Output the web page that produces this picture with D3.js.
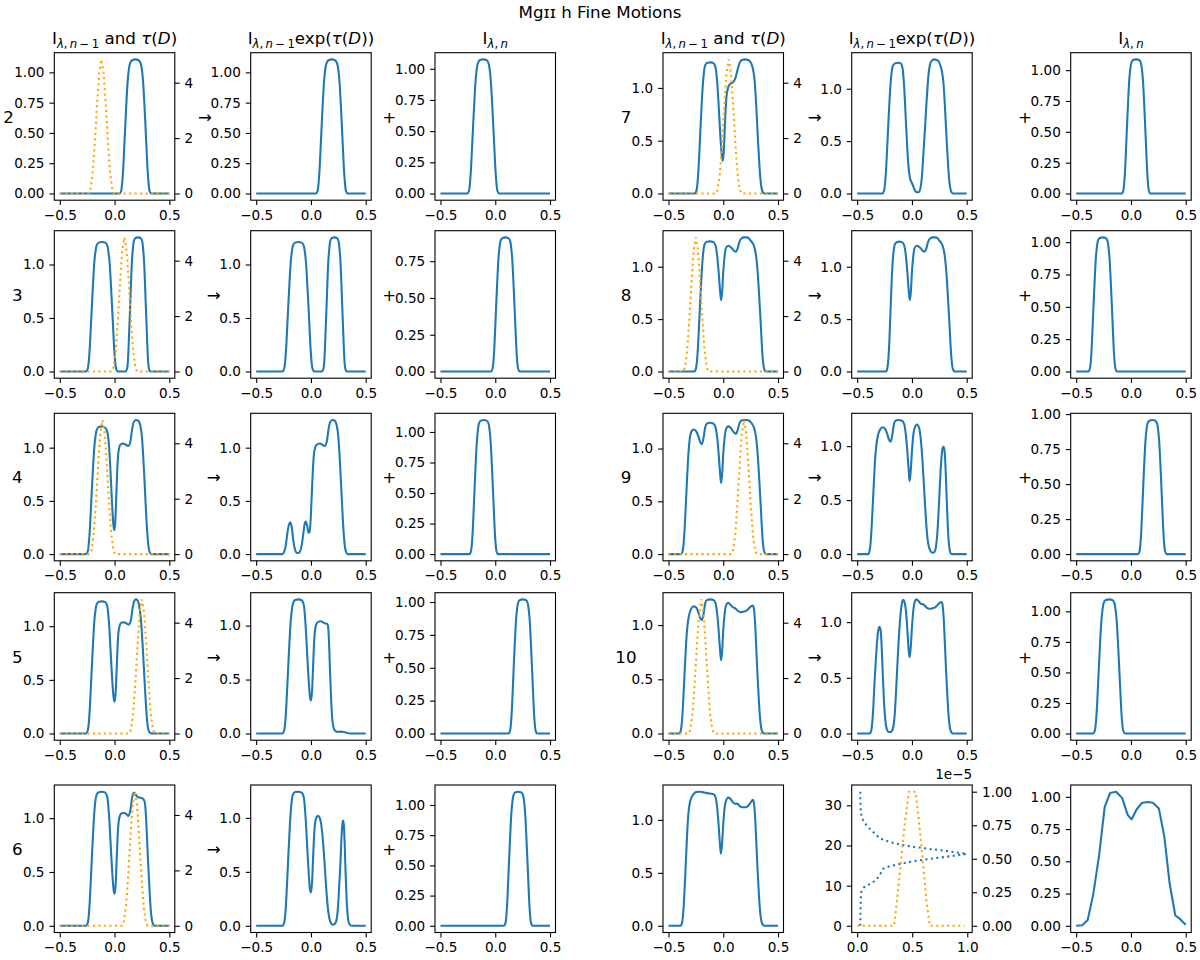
<!DOCTYPE html>
<html>
<head>
<meta charset="utf-8">
<script src="https://cdn.jsdelivr.net/npm/d3@7"></script>
<style>
  body { margin: 0; background: #fff; }
  svg text { font-family: "DejaVu Sans", sans-serif; fill: #000; }
</style>
</head>
<body>
<div id="chart"></div>
<script>
// ---- data: [wavelength offset, value] ----
// step 2
const s2_I = [[-0.5,0],[0.045,0],[0.06,0.02],[0.07,0.09],[0.08,0.22],[0.09,0.41],[0.10,0.6],[0.11,0.78],[0.12,0.93],[0.13,1.02],[0.14,1.07],[0.16,1.1],[0.19,1.107],[0.22,1.1],[0.24,1.07],[0.25,1.02],[0.26,0.93],[0.27,0.78],[0.28,0.6],[0.29,0.41],[0.30,0.22],[0.31,0.09],[0.32,0.02],[0.335,0],[0.5,0]];
const s2_tau = [[-0.5,0],[-0.235,0],[-0.22,0.15],[-0.2,0.73],[-0.18,1.84],[-0.16,3.2],[-0.14,4.36],[-0.12,4.84],[-0.10,4.36],[-0.08,3.2],[-0.06,1.84],[-0.04,0.73],[-0.02,0.15],[-0.005,0],[0.5,0]];
const s2_A = s2_I;
const s2_S = [[-0.5,0],[-0.255,0],[-0.24,0.02],[-0.23,0.09],[-0.22,0.22],[-0.21,0.4],[-0.2,0.58],[-0.19,0.75],[-0.18,0.9],[-0.17,0.99],[-0.16,1.04],[-0.14,1.07],[-0.11,1.075],[-0.08,1.07],[-0.06,1.04],[-0.05,0.99],[-0.04,0.9],[-0.03,0.75],[-0.02,0.58],[-0.01,0.4],[0,0.22],[0.01,0.09],[0.02,0.02],[0.035,0],[0.5,0]];
// step 3
const s3_I = [[-0.5,0],[-0.26,0],[-0.245,0.024],[-0.235,0.097],[-0.225,0.242],[-0.215,0.448],[-0.205,0.653],[-0.195,0.847],[-0.185,1.016],[-0.175,1.113],[-0.165,1.174],[-0.145,1.204],[-0.115,1.21],[-0.085,1.204],[-0.065,1.174],[-0.055,1.113],[-0.045,1.016],[-0.035,0.847],[-0.025,0.653],[-0.015,0.448],[-0.005,0.242],[0.005,0.097],[0.015,0.024],[0.03,0],[0.1,0],[0.114,0.025],[0.122,0.1],[0.129,0.251],[0.137,0.464],[0.145,0.677],[0.152,0.877],[0.16,1.053],[0.168,1.153],[0.175,1.215],[0.191,1.247],[0.214,1.253],[0.237,1.247],[0.253,1.215],[0.26,1.153],[0.268,1.053],[0.276,0.877],[0.283,0.677],[0.291,0.464],[0.299,0.251],[0.306,0.1],[0.314,0.025],[0.326,0],[0.5,0]];
const s3_tau = [[-0.5,0],[-0.025,0],[-0.01,0.15],[0.01,0.73],[0.03,1.84],[0.05,3.2],[0.07,4.36],[0.09,4.84],[0.11,4.36],[0.13,3.2],[0.15,1.84],[0.17,0.73],[0.19,0.15],[0.205,0],[0.5,0]];
const s3_A = s3_I;
const s3_S = [[-0.5,0],[-0.038,0],[-0.025,0.018],[-0.016,0.073],[-0.007,0.182],[0.002,0.337],[0.011,0.492],[0.02,0.638],[0.029,0.766],[0.038,0.839],[0.047,0.885],[0.065,0.907],[0.092,0.912],[0.119,0.907],[0.137,0.885],[0.146,0.839],[0.155,0.766],[0.164,0.638],[0.173,0.492],[0.182,0.337],[0.191,0.182],[0.2,0.073],[0.209,0.018],[0.222,0],[0.5,0]];
// step 4
const s4_I = [[-0.5,0],[-0.26,0],[-0.245,0.024],[-0.235,0.097],[-0.225,0.24],[-0.215,0.44],[-0.205,0.65],[-0.195,0.84],[-0.185,1.0],[-0.175,1.1],[-0.165,1.16],[-0.145,1.195],[-0.115,1.2],[-0.09,1.19],[-0.07,1.16],[-0.055,1.07],[-0.04,0.84],[-0.025,0.52],[-0.012,0.29],[-0.004,0.225],[0.005,0.28],[0.015,0.52],[0.025,0.8],[0.037,0.97],[0.055,1.03],[0.08,1.04],[0.1,1.03],[0.125,1.015],[0.145,1.06],[0.16,1.17],[0.175,1.24],[0.195,1.26],[0.215,1.255],[0.235,1.21],[0.25,1.1],[0.26,0.95],[0.27,0.76],[0.28,0.55],[0.29,0.35],[0.3,0.18],[0.31,0.07],[0.32,0.02],[0.335,0],[0.5,0]];
const s4_tau = [[-0.5,0],[-0.225,0],[-0.21,0.15],[-0.19,0.73],[-0.17,1.84],[-0.15,3.2],[-0.13,4.36],[-0.11,4.84],[-0.09,4.36],[-0.07,3.2],[-0.05,1.84],[-0.03,0.73],[-0.01,0.15],[0.005,0],[0.5,0]];
const s4_A = [[-0.5,0],[-0.26,0],[-0.245,0.02],[-0.23,0.08],[-0.215,0.2],[-0.2,0.28],[-0.188,0.3],[-0.175,0.25],[-0.16,0.12],[-0.145,0.04],[-0.13,0.012],[-0.115,0.01],[-0.1,0.025],[-0.085,0.08],[-0.07,0.19],[-0.058,0.28],[-0.048,0.305],[-0.035,0.27],[-0.022,0.2],[-0.012,0.21],[-0.003,0.32],[0.007,0.55],[0.018,0.8],[0.03,0.96],[0.05,1.025],[0.08,1.04],[0.1,1.03],[0.125,1.015],[0.145,1.06],[0.16,1.17],[0.175,1.24],[0.195,1.26],[0.215,1.255],[0.235,1.21],[0.25,1.1],[0.26,0.95],[0.27,0.76],[0.28,0.55],[0.29,0.35],[0.3,0.18],[0.31,0.07],[0.32,0.02],[0.335,0],[0.5,0]];
const s4_S = [[-0.5,0],[-0.235,0],[-0.222,0.022],[-0.213,0.088],[-0.204,0.22],[-0.195,0.406],[-0.186,0.593],[-0.177,0.769],[-0.168,0.922],[-0.159,1.01],[-0.15,1.065],[-0.132,1.093],[-0.105,1.098],[-0.078,1.093],[-0.06,1.065],[-0.051,1.01],[-0.042,0.922],[-0.033,0.769],[-0.024,0.593],[-0.015,0.406],[-0.006,0.22],[0.003,0.088],[0.012,0.022],[0.025,0],[0.5,0]];
// step 5
const s5_I = [[-0.5,0],[-0.26,0],[-0.245,0.025],[-0.235,0.1],[-0.225,0.25],[-0.215,0.46],[-0.205,0.67],[-0.195,0.87],[-0.185,1.04],[-0.175,1.14],[-0.165,1.2],[-0.145,1.228],[-0.115,1.232],[-0.085,1.225],[-0.065,1.18],[-0.05,1.02],[-0.035,0.75],[-0.02,0.48],[-0.008,0.33],[0,0.296],[0.01,0.38],[0.02,0.62],[0.03,0.86],[0.045,1.0],[0.065,1.034],[0.09,1.036],[0.11,1.025],[0.13,1.015],[0.15,1.06],[0.165,1.17],[0.18,1.235],[0.195,1.25],[0.21,1.24],[0.225,1.19],[0.24,1.07],[0.25,0.93],[0.26,0.76],[0.27,0.57],[0.28,0.38],[0.29,0.21],[0.3,0.09],[0.31,0.03],[0.325,0.005],[0.34,0],[0.5,0]];
const s5_tau = [[-0.5,0],[0.135,0],[0.15,0.15],[0.17,0.73],[0.19,1.84],[0.21,3.2],[0.23,4.36],[0.25,4.84],[0.27,4.36],[0.29,3.2],[0.31,1.84],[0.33,0.73],[0.35,0.15],[0.365,0],[0.5,0]];
const s5_A = [[-0.5,0],[-0.26,0],[-0.245,0.025],[-0.235,0.1],[-0.225,0.25],[-0.215,0.46],[-0.205,0.67],[-0.195,0.87],[-0.185,1.04],[-0.175,1.14],[-0.165,1.2],[-0.145,1.238],[-0.115,1.243],[-0.085,1.235],[-0.065,1.19],[-0.05,1.02],[-0.035,0.75],[-0.02,0.48],[-0.008,0.33],[0,0.306],[0.01,0.39],[0.02,0.63],[0.03,0.87],[0.045,1.0],[0.065,1.035],[0.09,1.04],[0.11,1.03],[0.13,1.02],[0.145,1.02],[0.155,1.0],[0.165,0.85],[0.175,0.55],[0.185,0.3],[0.195,0.13],[0.205,0.06],[0.22,0.025],[0.24,0.015],[0.27,0.017],[0.3,0.014],[0.33,0.006],[0.35,0],[0.5,0]];
const s5_S = [[-0.5,0],[0.122,0],[0.135,0.02],[0.144,0.082],[0.153,0.204],[0.162,0.377],[0.171,0.551],[0.18,0.714],[0.189,0.857],[0.198,0.938],[0.207,0.989],[0.225,1.015],[0.252,1.02],[0.279,1.015],[0.297,0.989],[0.306,0.938],[0.315,0.857],[0.324,0.714],[0.333,0.551],[0.342,0.377],[0.351,0.204],[0.36,0.082],[0.369,0.02],[0.382,0],[0.5,0]];
// step 6
const s6_I = [[-0.5,0],[-0.26,0],[-0.245,0.025],[-0.235,0.1],[-0.225,0.25],[-0.215,0.46],[-0.205,0.68],[-0.195,0.88],[-0.185,1.05],[-0.175,1.16],[-0.165,1.215],[-0.145,1.242],[-0.115,1.246],[-0.085,1.238],[-0.065,1.19],[-0.05,1.02],[-0.035,0.75],[-0.02,0.48],[-0.008,0.33],[0,0.297],[0.01,0.38],[0.02,0.63],[0.03,0.87],[0.045,1.01],[0.065,1.045],[0.09,1.048],[0.11,1.035],[0.127,1.02],[0.145,1.08],[0.16,1.19],[0.178,1.238],[0.195,1.215],[0.215,1.195],[0.24,1.19],[0.26,1.18],[0.275,1.15],[0.285,1.05],[0.295,0.85],[0.305,0.62],[0.315,0.42],[0.325,0.23],[0.335,0.1],[0.345,0.035],[0.36,0.005],[0.375,0],[0.5,0]];
const s6_tau = [[-0.5,0],[0.07,0],[0.085,0.15],[0.105,0.73],[0.125,1.84],[0.145,3.2],[0.165,4.36],[0.185,4.84],[0.205,4.36],[0.225,3.2],[0.245,1.84],[0.265,0.73],[0.285,0.15],[0.3,0],[0.5,0]];
const s6_A = [[-0.5,0],[-0.26,0],[-0.245,0.025],[-0.235,0.1],[-0.225,0.25],[-0.215,0.46],[-0.205,0.68],[-0.195,0.88],[-0.185,1.05],[-0.175,1.16],[-0.165,1.215],[-0.145,1.24],[-0.115,1.243],[-0.085,1.235],[-0.065,1.19],[-0.05,1.02],[-0.035,0.75],[-0.02,0.48],[-0.008,0.33],[0,0.31],[0.01,0.4],[0.02,0.64],[0.03,0.86],[0.045,0.99],[0.064,1.02],[0.08,1.0],[0.095,0.93],[0.11,0.78],[0.125,0.57],[0.14,0.34],[0.155,0.16],[0.17,0.06],[0.185,0.02],[0.2,0.01],[0.215,0.015],[0.23,0.04],[0.245,0.15],[0.257,0.35],[0.268,0.56],[0.278,0.8],[0.287,0.94],[0.293,0.975],[0.3,0.94],[0.308,0.76],[0.316,0.5],[0.325,0.26],[0.335,0.1],[0.345,0.03],[0.36,0.005],[0.375,0],[0.5,0]];
const s6_S = [[-0.5,0],[0.08,0],[0.093,0.022],[0.102,0.089],[0.111,0.222],[0.12,0.411],[0.129,0.599],[0.138,0.777],[0.147,0.932],[0.156,1.021],[0.165,1.077],[0.183,1.104],[0.21,1.11],[0.237,1.104],[0.255,1.077],[0.264,1.021],[0.273,0.932],[0.282,0.777],[0.291,0.599],[0.3,0.411],[0.309,0.222],[0.318,0.089],[0.327,0.022],[0.34,0],[0.5,0]];
// step 7
const s7_I = [[-0.5,0],[-0.26,0],[-0.245,0.025],[-0.235,0.1],[-0.225,0.25],[-0.215,0.46],[-0.205,0.68],[-0.195,0.88],[-0.185,1.05],[-0.175,1.16],[-0.165,1.215],[-0.145,1.238],[-0.115,1.242],[-0.09,1.235],[-0.07,1.19],[-0.055,1.05],[-0.04,0.8],[-0.025,0.52],[-0.012,0.35],[-0.004,0.308],[0.005,0.4],[0.015,0.65],[0.028,0.9],[0.045,1.006],[0.065,1.04],[0.09,1.055],[0.11,1.09],[0.13,1.17],[0.15,1.24],[0.17,1.265],[0.2,1.27],[0.225,1.265],[0.245,1.25],[0.26,1.22],[0.275,1.16],[0.288,1.05],[0.3,0.85],[0.31,0.65],[0.32,0.45],[0.33,0.27],[0.34,0.13],[0.35,0.05],[0.36,0.015],[0.375,0],[0.5,0]];
const s7_tau = [[-0.5,0],[-0.065,0],[-0.05,0.15],[-0.03,0.73],[-0.01,1.84],[0.01,3.2],[0.03,4.36],[0.05,4.84],[0.07,4.36],[0.09,3.2],[0.11,1.84],[0.13,0.73],[0.15,0.15],[0.165,0],[0.5,0]];
const s7_A = [[-0.5,0],[-0.27,0],[-0.255,0.025],[-0.245,0.1],[-0.235,0.25],[-0.225,0.46],[-0.215,0.68],[-0.205,0.88],[-0.195,1.05],[-0.185,1.16],[-0.175,1.215],[-0.155,1.242],[-0.125,1.248],[-0.1,1.24],[-0.085,1.19],[-0.07,1.0],[-0.058,0.75],[-0.046,0.5],[-0.035,0.3],[-0.022,0.17],[-0.01,0.12],[0,0.1],[0.015,0.06],[0.03,0.025],[0.045,0.012],[0.06,0.012],[0.075,0.04],[0.09,0.15],[0.1,0.3],[0.11,0.47],[0.12,0.64],[0.13,0.82],[0.14,0.98],[0.15,1.12],[0.16,1.21],[0.175,1.26],[0.2,1.28],[0.225,1.275],[0.245,1.26],[0.26,1.22],[0.275,1.16],[0.288,1.05],[0.3,0.85],[0.31,0.65],[0.32,0.45],[0.33,0.27],[0.34,0.13],[0.35,0.05],[0.36,0.015],[0.375,0],[0.5,0]];
const s7_S = [[-0.5,0],[-0.083,0],[-0.07,0.022],[-0.061,0.087],[-0.052,0.217],[-0.043,0.402],[-0.034,0.587],[-0.025,0.761],[-0.016,0.913],[-0.007,1.0],[0.002,1.054],[0.02,1.082],[0.047,1.087],[0.074,1.082],[0.092,1.054],[0.101,1.0],[0.11,0.913],[0.119,0.761],[0.128,0.587],[0.137,0.402],[0.146,0.217],[0.155,0.087],[0.164,0.022],[0.177,0],[0.5,0]];
// step 8
const s8_I = [[-0.5,0],[-0.265,0],[-0.25,0.025],[-0.24,0.1],[-0.23,0.25],[-0.22,0.46],[-0.21,0.68],[-0.2,0.88],[-0.19,1.05],[-0.18,1.16],[-0.17,1.215],[-0.15,1.238],[-0.12,1.242],[-0.09,1.235],[-0.07,1.2],[-0.055,1.1],[-0.042,0.95],[-0.03,0.78],[-0.02,0.68],[-0.01,0.76],[0,0.95],[0.012,1.1],[0.025,1.18],[0.045,1.2],[0.065,1.19],[0.085,1.17],[0.1,1.15],[0.115,1.144],[0.13,1.17],[0.145,1.23],[0.165,1.27],[0.19,1.28],[0.215,1.28],[0.235,1.27],[0.25,1.25],[0.265,1.23],[0.28,1.2],[0.29,1.16],[0.3,1.1],[0.31,1.0],[0.32,0.86],[0.33,0.68],[0.34,0.5],[0.35,0.3],[0.36,0.13],[0.37,0.04],[0.38,0.01],[0.39,0],[0.5,0]];
const s8_tau = [[-0.5,0],[-0.365,0],[-0.35,0.15],[-0.33,0.73],[-0.31,1.84],[-0.29,3.2],[-0.27,4.36],[-0.25,4.84],[-0.23,4.36],[-0.21,3.2],[-0.19,1.84],[-0.17,0.73],[-0.15,0.15],[-0.135,0],[0.5,0]];
const s8_A = [[-0.5,0],[-0.235,0],[-0.225,0.03],[-0.215,0.12],[-0.205,0.32],[-0.195,0.6],[-0.185,0.87],[-0.175,1.06],[-0.165,1.17],[-0.15,1.225],[-0.12,1.24],[-0.09,1.235],[-0.07,1.2],[-0.055,1.1],[-0.042,0.95],[-0.03,0.78],[-0.02,0.68],[-0.01,0.76],[0,0.95],[0.012,1.1],[0.025,1.18],[0.045,1.2],[0.065,1.19],[0.085,1.17],[0.1,1.15],[0.115,1.144],[0.13,1.17],[0.145,1.23],[0.165,1.27],[0.19,1.28],[0.215,1.28],[0.235,1.27],[0.25,1.25],[0.265,1.23],[0.28,1.2],[0.29,1.16],[0.3,1.1],[0.31,1.0],[0.32,0.86],[0.33,0.68],[0.34,0.5],[0.35,0.3],[0.36,0.13],[0.37,0.04],[0.38,0.01],[0.39,0],[0.5,0]];
const s8_S = [[-0.5,0],[-0.388,0],[-0.375,0.021],[-0.366,0.083],[-0.357,0.207],[-0.348,0.384],[-0.339,0.56],[-0.33,0.726],[-0.321,0.871],[-0.312,0.954],[-0.303,1.006],[-0.285,1.032],[-0.258,1.037],[-0.231,1.032],[-0.213,1.006],[-0.204,0.954],[-0.195,0.871],[-0.186,0.726],[-0.177,0.56],[-0.168,0.384],[-0.159,0.207],[-0.15,0.083],[-0.141,0.021],[-0.128,0],[0.5,0]];
// step 9
const s9_I = [[-0.5,0],[-0.385,0],[-0.372,0.025],[-0.362,0.1],[-0.352,0.25],[-0.342,0.46],[-0.332,0.68],[-0.322,0.88],[-0.312,1.03],[-0.3,1.13],[-0.285,1.17],[-0.267,1.18],[-0.245,1.16],[-0.225,1.11],[-0.21,1.06],[-0.195,1.04],[-0.18,1.1],[-0.165,1.2],[-0.15,1.235],[-0.12,1.244],[-0.09,1.235],[-0.07,1.2],[-0.055,1.1],[-0.042,0.95],[-0.03,0.78],[-0.02,0.674],[-0.01,0.76],[0,0.95],[0.012,1.1],[0.025,1.18],[0.045,1.21],[0.065,1.2],[0.085,1.17],[0.1,1.15],[0.115,1.14],[0.13,1.17],[0.145,1.23],[0.165,1.265],[0.19,1.27],[0.215,1.27],[0.235,1.265],[0.25,1.25],[0.265,1.23],[0.28,1.2],[0.29,1.16],[0.3,1.1],[0.31,1.0],[0.32,0.86],[0.33,0.68],[0.34,0.5],[0.35,0.3],[0.36,0.13],[0.37,0.04],[0.38,0.01],[0.39,0],[0.5,0]];
const s9_tau = [[-0.5,0],[0.075,0],[0.09,0.15],[0.11,0.73],[0.13,1.84],[0.15,3.2],[0.17,4.36],[0.19,4.84],[0.21,4.36],[0.23,3.2],[0.25,1.84],[0.27,0.73],[0.29,0.15],[0.305,0],[0.5,0]];
const s9_A = [[-0.5,0],[-0.4,0],[-0.388,0.025],[-0.378,0.1],[-0.368,0.25],[-0.358,0.45],[-0.348,0.66],[-0.338,0.85],[-0.326,1.0],[-0.31,1.1],[-0.29,1.155],[-0.267,1.175],[-0.245,1.16],[-0.225,1.11],[-0.21,1.06],[-0.195,1.04],[-0.18,1.1],[-0.165,1.2],[-0.15,1.235],[-0.12,1.242],[-0.09,1.235],[-0.07,1.2],[-0.055,1.1],[-0.042,0.95],[-0.03,0.78],[-0.022,0.675],[-0.012,0.76],[0,0.95],[0.012,1.1],[0.025,1.17],[0.045,1.2],[0.065,1.17],[0.08,1.07],[0.095,0.88],[0.108,0.66],[0.12,0.45],[0.132,0.26],[0.145,0.12],[0.16,0.05],[0.175,0.02],[0.19,0.013],[0.205,0.02],[0.218,0.06],[0.23,0.17],[0.242,0.37],[0.252,0.58],[0.262,0.78],[0.272,0.92],[0.28,0.98],[0.288,0.994],[0.296,0.97],[0.304,0.86],[0.312,0.66],[0.32,0.44],[0.328,0.24],[0.337,0.1],[0.346,0.03],[0.356,0.005],[0.37,0],[0.5,0]];
const s9_S = [[-0.5,0],[0.065,0],[0.078,0.019],[0.087,0.077],[0.096,0.192],[0.105,0.354],[0.114,0.517],[0.123,0.671],[0.132,0.805],[0.141,0.881],[0.15,0.929],[0.168,0.953],[0.195,0.958],[0.222,0.953],[0.24,0.929],[0.249,0.881],[0.258,0.805],[0.267,0.671],[0.276,0.517],[0.285,0.354],[0.294,0.192],[0.303,0.077],[0.312,0.019],[0.325,0],[0.5,0]];
// step 10
const s10_I = [[-0.5,0],[-0.4,0],[-0.388,0.025],[-0.378,0.1],[-0.368,0.25],[-0.358,0.45],[-0.348,0.66],[-0.338,0.85],[-0.326,1.0],[-0.31,1.1],[-0.29,1.155],[-0.267,1.173],[-0.245,1.16],[-0.225,1.11],[-0.21,1.065],[-0.195,1.047],[-0.18,1.1],[-0.165,1.2],[-0.15,1.23],[-0.12,1.237],[-0.09,1.232],[-0.07,1.2],[-0.055,1.1],[-0.042,0.95],[-0.03,0.78],[-0.02,0.675],[-0.01,0.76],[0,0.95],[0.012,1.1],[0.025,1.18],[0.045,1.205],[0.065,1.19],[0.085,1.165],[0.1,1.16],[0.115,1.15],[0.135,1.13],[0.16,1.12],[0.19,1.125],[0.215,1.135],[0.235,1.155],[0.255,1.175],[0.27,1.18],[0.28,1.15],[0.29,1.03],[0.3,0.82],[0.31,0.6],[0.32,0.4],[0.33,0.22],[0.34,0.1],[0.35,0.035],[0.36,0.01],[0.375,0],[0.5,0]];
const s10_tau = [[-0.5,0],[-0.315,0],[-0.3,0.15],[-0.28,0.73],[-0.26,1.84],[-0.24,3.2],[-0.22,4.36],[-0.2,4.84],[-0.18,4.36],[-0.16,3.2],[-0.14,1.84],[-0.12,0.73],[-0.1,0.15],[-0.085,0],[0.5,0]];
const s10_A = [[-0.5,0],[-0.385,0],[-0.372,0.025],[-0.362,0.1],[-0.352,0.25],[-0.342,0.45],[-0.332,0.62],[-0.322,0.78],[-0.31,0.91],[-0.297,0.957],[-0.285,0.92],[-0.275,0.75],[-0.265,0.5],[-0.255,0.28],[-0.243,0.12],[-0.23,0.04],[-0.215,0.015],[-0.2,0.012],[-0.185,0.02],[-0.17,0.06],[-0.158,0.16],[-0.146,0.36],[-0.135,0.58],[-0.122,0.82],[-0.11,1.0],[-0.095,1.15],[-0.08,1.2],[-0.065,1.17],[-0.052,1.07],[-0.04,0.9],[-0.03,0.75],[-0.022,0.685],[-0.012,0.76],[0,0.95],[0.012,1.1],[0.025,1.18],[0.04,1.204],[0.06,1.19],[0.08,1.165],[0.1,1.16],[0.115,1.15],[0.135,1.13],[0.16,1.12],[0.19,1.125],[0.215,1.135],[0.235,1.155],[0.255,1.175],[0.27,1.18],[0.28,1.15],[0.29,1.03],[0.3,0.82],[0.31,0.6],[0.32,0.4],[0.33,0.22],[0.34,0.1],[0.35,0.035],[0.36,0.01],[0.375,0],[0.5,0]];
const s10_S = [[-0.5,0],[-0.345,0],[-0.33,0.022],[-0.32,0.088],[-0.31,0.22],[-0.3,0.406],[-0.29,0.593],[-0.28,0.769],[-0.27,0.922],[-0.26,1.01],[-0.25,1.065],[-0.23,1.093],[-0.2,1.098],[-0.17,1.093],[-0.15,1.065],[-0.14,1.01],[-0.13,0.922],[-0.12,0.769],[-0.11,0.593],[-0.1,0.406],[-0.09,0.22],[-0.08,0.088],[-0.07,0.022],[-0.055,0],[0.5,0]];
// final row
const fin_I = [[-0.5,0],[-0.39,0],[-0.378,0.02],[-0.368,0.09],[-0.358,0.24],[-0.348,0.45],[-0.338,0.68],[-0.328,0.9],[-0.318,1.06],[-0.305,1.16],[-0.29,1.21],[-0.27,1.245],[-0.25,1.262],[-0.22,1.266],[-0.19,1.262],[-0.16,1.255],[-0.13,1.25],[-0.1,1.245],[-0.08,1.235],[-0.065,1.19],[-0.052,1.08],[-0.04,0.92],[-0.03,0.77],[-0.021,0.68],[-0.011,0.77],[0,0.96],[0.012,1.11],[0.025,1.18],[0.045,1.21],[0.065,1.2],[0.085,1.17],[0.1,1.155],[0.115,1.15],[0.13,1.155],[0.145,1.135],[0.17,1.12],[0.2,1.12],[0.225,1.13],[0.245,1.155],[0.26,1.18],[0.27,1.19],[0.28,1.16],[0.29,1.04],[0.3,0.83],[0.31,0.6],[0.32,0.4],[0.33,0.22],[0.34,0.1],[0.35,0.035],[0.36,0.01],[0.375,0],[0.5,0]];
// [x, height] profile (left axis) and source term in units of 1e-5 (right axis)
const fin_height = [[0.028,0],[0.03,4],[0.035,8.3],[0.062,9.6],[0.1,10.2],[0.131,10.6],[0.16,11.2],[0.183,11.8],[0.205,12.6],[0.22,13.4],[0.234,14.2],[0.27,14.6],[0.303,14.9],[0.37,15.3],[0.441,15.7],[0.52,16.1],[0.614,16.5],[0.7,16.8],[0.786,17.1],[0.89,17.5],[0.995,17.9],[0.89,18.3],[0.786,18.75],[0.7,19.0],[0.614,19.3],[0.52,19.65],[0.441,20.0],[0.37,20.4],[0.303,20.8],[0.25,21.3],[0.2,21.9],[0.16,23.0],[0.12,24.0],[0.08,25.2],[0.055,26.2],[0.04,27.2],[0.032,29],[0.029,31],[0.028,33.4]];
const fin_tau_e5 = [[0,0],[0.335,0],[0.37,0.25],[0.4,0.5],[0.435,0.78],[0.47,1.0],[0.53,1.0],[0.565,0.75],[0.6,0.45],[0.63,0.18],[0.66,0],[0.975,0]];
const fin_S = [[-0.5,0],[-0.445,0.004],[-0.395,0.045],[-0.345,0.24],[-0.29,0.55],[-0.24,0.92],[-0.19,1.03],[-0.135,1.04],[-0.08,0.99],[-0.03,0.86],[0.005,0.825],[0.05,0.9],[0.1,0.953],[0.15,0.96],[0.2,0.955],[0.255,0.91],[0.305,0.69],[0.353,0.33],[0.405,0.08],[0.445,0.055],[0.5,0.008]];

const leftSteps = [
  {n: "2", I: s2_I, tau: s2_tau, A: s2_A, S: s2_S},
  {n: "3", I: s3_I, tau: s3_tau, A: s3_A, S: s3_S},
  {n: "4", I: s4_I, tau: s4_tau, A: s4_A, S: s4_S},
  {n: "5", I: s5_I, tau: s5_tau, A: s5_A, S: s5_S},
  {n: "6", I: s6_I, tau: s6_tau, A: s6_A, S: s6_S}
];
const rightSteps = [
  {n: "7", I: s7_I, tau: s7_tau, A: s7_A, S: s7_S},
  {n: "8", I: s8_I, tau: s8_tau, A: s8_A, S: s8_S},
  {n: "9", I: s9_I, tau: s9_tau, A: s9_A, S: s9_S},
  {n: "10", I: s10_I, tau: s10_tau, A: s10_A, S: s10_S}
];
const xTickVals = [-0.5, 0, 0.5];
const tauTickVals = [0, 2, 4];

// ---- layout ----
const WIDTH = 1200, HEIGHT = 960;
const colX = [54.3, 250.7, 435, 663, 851.7, 1070.7];
const rowY = [52.7, 230.7, 413.3, 592.7, 785];
const PW = 120.5, PH = 147.5;
const BLUE = "#1f77b4", ORANGE = "#ffa500";
const LW = 2.08, DOT = "2.08 3.43";
const TICK = 4.9, TPAD = 4.9, FS = 13.6, BIG = 16.7;

const svg = d3.select("#chart").append("svg")
  .attr("width", WIDTH).attr("height", HEIGHT);

svg.append("text")
  .attr("x", WIDTH / 2).attr("y", 18).attr("text-anchor", "middle")
  .attr("font-size", BIG).text("Mgɪɪ h Fine Motions");

const padDom = (lo, hi) => [lo - 0.05 * (hi - lo), hi + 0.05 * (hi - lo)];

function autoTicks(max) {
  if (max > 1.15) return {vals: [0, 0.5, 1], fmt: d3.format(".1f")};
  return {vals: [0, 0.25, 0.5, 0.75, 1].filter(t => t <= max * 1.05), fmt: d3.format(".2f")};
}

function styleAxis(a) {
  a.attr("font-size", FS).attr("font-family", "DejaVu Sans");
  a.select(".domain").remove();
  a.selectAll(".tick line").attr("stroke", "#000").attr("stroke-width", 1.1);
  a.selectAll(".tick text").attr("fill", "#000");
}

// title pieces: "" normal, "i" italic, "s" subscript, "si" italic subscript
const subI = [["I",""],["λ","si"],[",\u2009","s"],["n","si"]];
const TITLES = [
  subI.concat([["\u2009−\u20091","s"],[" and ",""],["τ","i"],["(",""],["D","i"],[")",""]]),
  subI.concat([["\u2009−\u20091","s"],["exp(",""],["τ","i"],["(",""],["D","i"],["))",""]]),
  subI
];

function addTitle(g, parts) {
  const t = g.append("text").attr("x", PW / 2).attr("y", -8.3)
    .attr("text-anchor", "middle").attr("font-size", BIG)
    .style("white-space", "pre");
  let down = false;
  parts.forEach(([s, st]) => {
    const sub = st.includes("s");
    const ts = t.append("tspan").text(s);
    if (sub !== down) { ts.attr("dy", sub ? 4 : -4); down = sub; }
    if (sub) ts.attr("font-size", BIG * 0.7);
    if (st.includes("i")) ts.attr("font-style", "italic");
  });
}

function panel(col, row, o) {
  const g = svg.append("g").attr("transform", `translate(${colX[col]},${rowY[row]})`);
  const allX = o.blue.concat(o.tau || []).map(d => d[0]);
  const x = d3.scaleLinear().domain(padDom(d3.min(allX), d3.max(allX))).range([0, PW]);
  const yMax = d3.max(o.blue, d => d[1]);
  const y = d3.scaleLinear().domain(padDom(0, yMax)).range([PH, 0]);
  const yt = o.yTicks || autoTicks(yMax);

  const xa = g.append("g").attr("transform", `translate(0,${PH})`)
    .call(d3.axisBottom(x).tickValues(o.xTicks || xTickVals).tickFormat(d3.format(".1f"))
      .tickSize(TICK).tickPadding(TPAD));
  const ya = g.append("g")
    .call(d3.axisLeft(y).tickValues(yt.vals).tickFormat(yt.fmt).tickSize(TICK).tickPadding(TPAD));
  styleAxis(xa); styleAxis(ya);

  const line = d3.line().x(d => x(d[0])).y(d => y(d[1])).curve(o.blueCurve || d3.curveMonotoneX);
  g.append("path").datum(o.blue).attr("d", line)
    .attr("fill", "none").attr("stroke", BLUE).attr("stroke-width", LW)
    .attr("stroke-linejoin", "round")
    .attr("stroke-dasharray", o.blueDotted ? DOT : null);

  if (o.tau) {
    const tMax = d3.max(o.tau, d => d[1]);
    const y2 = d3.scaleLinear().domain(padDom(0, tMax)).range([PH, 0]);
    const ra = g.append("g").attr("transform", `translate(${PW},0)`)
      .call(d3.axisRight(y2).tickValues(o.tauTicks || tauTickVals)
        .tickFormat(o.tauFmt || d3.format("d")).tickSize(TICK).tickPadding(TPAD));
    styleAxis(ra);
    const line2 = d3.line().x(d => x(d[0])).y(d => y2(d[1]));
    g.append("path").datum(o.tau).attr("d", line2)
      .attr("fill", "none").attr("stroke", ORANGE).attr("stroke-width", LW)
      .attr("stroke-dasharray", DOT);
  }

  g.append("rect").attr("width", PW).attr("height", PH)
    .attr("fill", "none").attr("stroke", "#000").attr("stroke-width", 1.1);

  if (o.title) addTitle(g, o.title);
  if (o.label) {
    const bb = ya.node().getBBox();
    g.append("text").attr("x", bb.x - 5.6).attr("y", PH / 2 - 3.9)
      .attr("text-anchor", "middle").attr("font-size", BIG).text(o.label);
  }
  if (o.offset) {
    g.append("text").attr("x", PW).attr("y", -6).attr("text-anchor", "end")
      .attr("font-size", FS).text(o.offset);
  }
}

leftSteps.forEach((s, r) => {
  panel(0, r, {blue: s.I, tau: s.tau, label: s.n, title: r === 0 ? TITLES[0] : null});
  panel(1, r, {blue: s.A, label: "→", title: r === 0 ? TITLES[1] : null});
  panel(2, r, {blue: s.S, label: "+", title: r === 0 ? TITLES[2] : null});
});
rightSteps.forEach((s, r) => {
  panel(3, r, {blue: s.I, tau: s.tau, label: s.n, title: r === 0 ? TITLES[0] : null});
  panel(4, r, {blue: s.A, label: "→", title: r === 0 ? TITLES[1] : null});
  panel(5, r, {blue: s.S, label: "+", title: r === 0 ? TITLES[2] : null});
});
panel(3, 4, {blue: fin_I});
panel(4, 4, {
  blue: fin_height, blueCurve: d3.curveLinear, blueDotted: true,
  xTicks: [0, 0.5, 1], yTicks: {vals: [0, 10, 20, 30], fmt: d3.format("d")},
  tau: fin_tau_e5, tauTicks: [0, 0.25, 0.5, 0.75, 1], tauFmt: d3.format(".2f"),
  offset: "1e−5"
});
panel(5, 4, {blue: fin_S, blueCurve: d3.curveLinear});
</script>
</body>
</html>
